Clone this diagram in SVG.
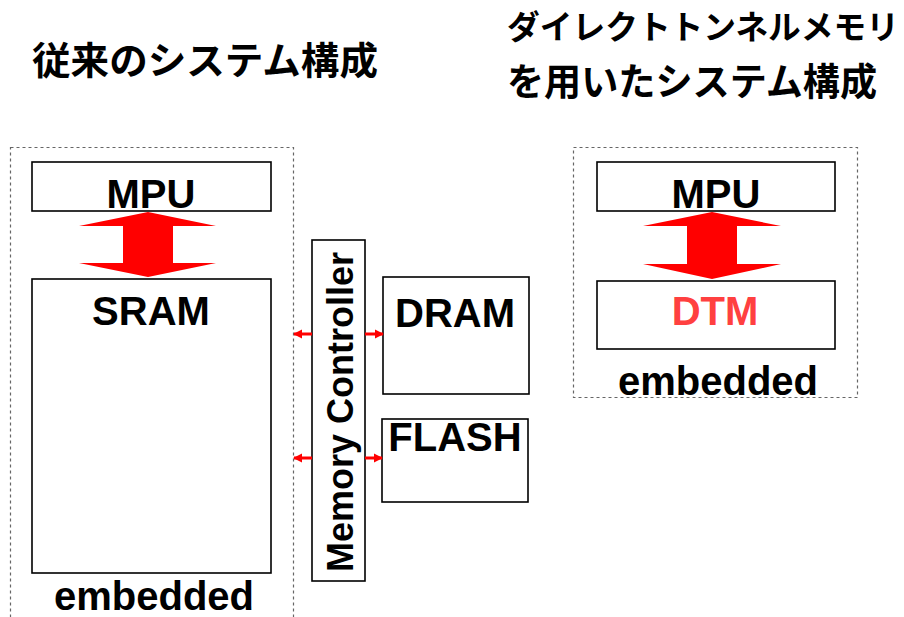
<svg xmlns="http://www.w3.org/2000/svg" width="904" height="617" viewBox="0 0 904 617">
<style>
.box{fill:#fff;stroke:#000;stroke-width:1.6}
.dash{fill:none;stroke:#666;stroke-width:1.2;stroke-dasharray:3,3}
.lbl{font-family:"Liberation Sans",Arial,sans-serif;font-weight:bold;font-size:40px;fill:#000;text-anchor:middle}
.ttl{font-family:"Noto Sans CJK JP",sans-serif;font-weight:bold;font-size:38px;fill:#000}
.big{fill:#ff0000}
.sm{stroke:#ff0000;stroke-width:3;fill:none}
</style>
<defs>
<marker id="ah" viewBox="0 0 10 10" refX="9" refY="5" markerWidth="9" markerHeight="11" markerUnits="userSpaceOnUse" orient="auto">
<path d="M0,0 L10,5 L0,10 Z" fill="#ff0000"/>
</marker>
</defs>
<rect width="904" height="617" fill="#fff"/>
<text class="ttl" x="32" y="74" textLength="346" lengthAdjust="spacingAndGlyphs">従来のシステム構成</text>
<text class="ttl" x="507" y="39" style="font-size:33px" textLength="392" lengthAdjust="spacingAndGlyphs">ダイレクトトンネルメモリ</text>
<text class="ttl" x="507" y="95" textLength="370" lengthAdjust="spacingAndGlyphs">を用いたシステム構成</text>
<g id="embedded-left"><rect class="dash" x="10.5" y="147.5" width="283" height="480"/><text class="lbl" x="154" y="610">embedded</text></g>
<g id="mpu-left"><rect class="box" x="32" y="162" width="239" height="49"/><text class="lbl" x="151" y="208">MPU</text></g>
<g id="sram"><rect class="box" x="32" y="279" width="239" height="294"/><text class="lbl" x="151" y="325">SRAM</text></g>
<g id="memctrl"><rect class="box" x="312" y="240" width="53" height="341"/><text class="lbl" style="font-size:36px" transform="translate(353,412) rotate(-90)">Memory Controller</text></g>
<g id="dram"><rect class="box" x="383" y="277" width="146" height="117"/><text class="lbl" x="455" y="327">DRAM</text></g>
<g id="flash"><rect class="box" x="382" y="419" width="146" height="83"/><text class="lbl" x="455" y="451">FLASH</text></g>
<g id="embedded-right"><rect class="dash" x="573.5" y="147.5" width="284" height="250"/><text class="lbl" x="718" y="395">embedded</text></g>
<g id="mpu-right"><rect class="box" x="597" y="162" width="238" height="49"/><text class="lbl" x="716" y="208">MPU</text></g>
<g id="dtm"><rect class="box" x="597" y="281" width="238" height="68"/><text class="lbl" x="715" y="325" style="fill:#ff4040">DTM</text></g>
<g id="connectors">
<path class="big" d="M148,212 L216,226 L173,226 L173,263 L216,263 L148,277 L79,263 L123,263 L123,226 L79,226 Z"/>
<path class="big" d="M712,212 L781,226 L737,226 L737,264 L781,264 L712,279 L643,264 L687,264 L687,226 L643,226 Z"/>
<line class="sm" x1="312" y1="334" x2="294" y2="334" marker-end="url(#ah)"/>
<line class="sm" x1="365" y1="334" x2="383" y2="334" marker-end="url(#ah)"/>
<line class="sm" x1="312" y1="458" x2="294" y2="458" marker-end="url(#ah)"/>
<line class="sm" x1="365" y1="458" x2="382" y2="458" marker-end="url(#ah)"/>
</g>
</svg>
